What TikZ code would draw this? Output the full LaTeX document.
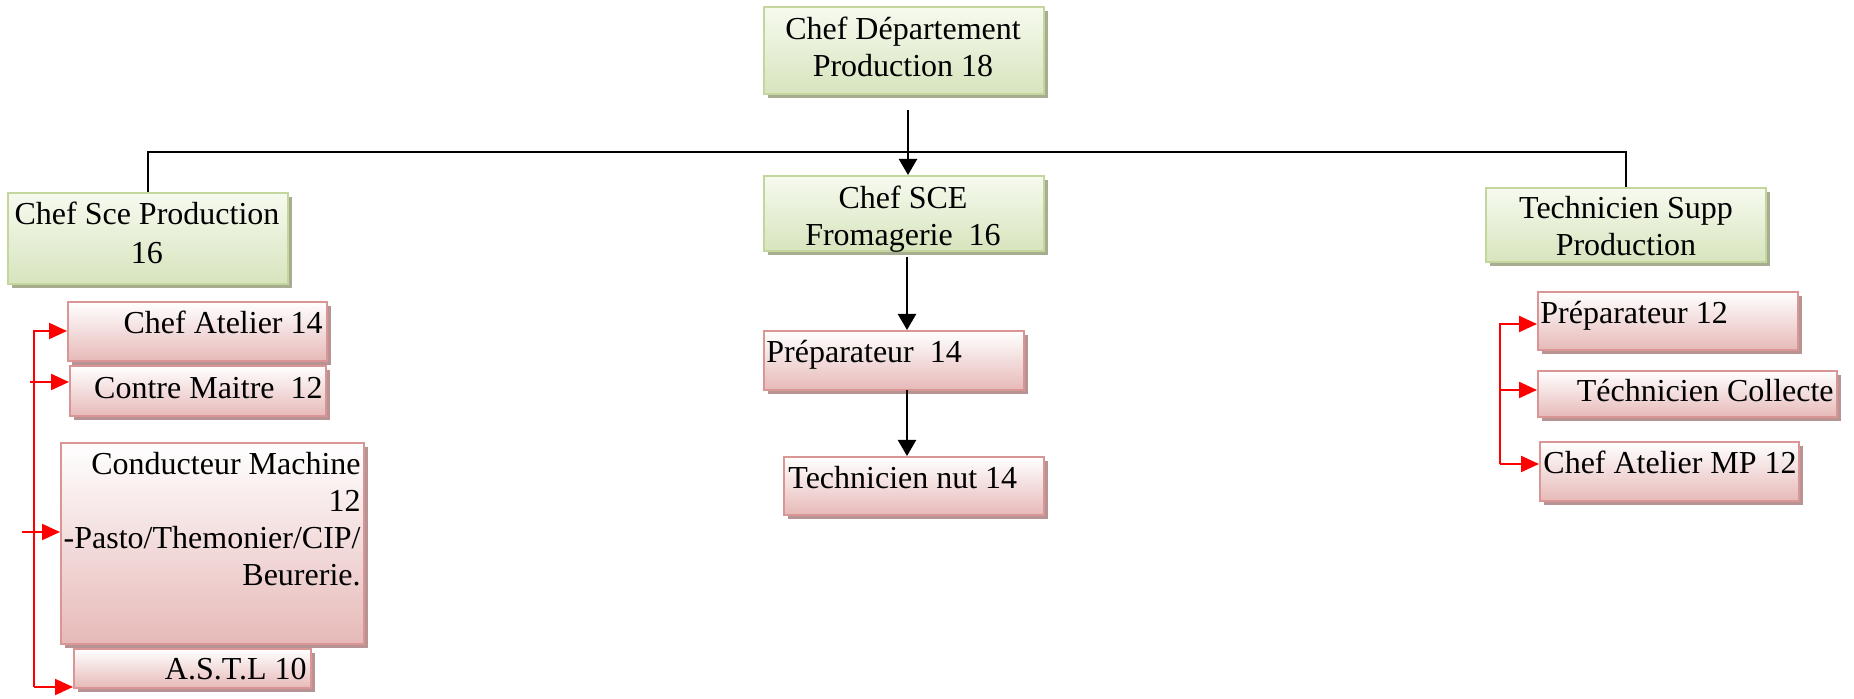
\documentclass[tikz,border=0pt]{standalone}
\usepackage{fontspec}
\setmainfont{Liberation Serif}
\usetikzlibrary{shadows,arrows.meta}
\definecolor{gborder}{HTML}{C3D69B}
\definecolor{gtop}{HTML}{F6FAEF}
\definecolor{gbot}{HTML}{D7E4BD}
\definecolor{gshadow}{HTML}{A6AD90}
\definecolor{rborder}{HTML}{D99694}
\definecolor{rtop}{HTML}{FFFFFF}
\definecolor{rbot}{HTML}{E6B9B8}
\definecolor{rshadow}{HTML}{B89393}
\definecolor{redline}{HTML}{FF0000}
\begin{document}
\begin{tikzpicture}[x=0.5pt,y=-0.5pt,
  font=\fontsize{16}{18.5}\selectfont,
  gbox/.style={draw=gborder, line width=1.2pt, top color=gtop, bottom color=gbot,
    inner sep=0pt, anchor=north west,
    drop shadow={shadow xshift=2pt,shadow yshift=-2pt,fill=gshadow,opacity=1}},
  rbox/.style={draw=rborder, line width=1.2pt, top color=rtop, bottom color=rbot,
    inner sep=0pt, anchor=north west,
    drop shadow={shadow xshift=2pt,shadow yshift=-2pt,fill=rshadow,opacity=1}},
  txt/.style={inner sep=0pt, text=black},
  bline/.style={black, line width=1.1pt},
  barrow/.style={black, line width=1.1pt, -{Triangle[length=8pt,width=9pt]}},
  rarrow/.style={redline, line width=1.1pt, -{Triangle[length=9pt,width=8pt]}}]
\useasboundingbox (0,0) rectangle (1854,699);

% boxes
\node[gbox, minimum width=140pt, minimum height=43.5pt] (top) at (763,6) {};
\node[gbox, minimum width=140pt, minimum height=45.5pt] (sce) at (7,192) {};
\node[gbox, minimum width=140pt, minimum height=37.5pt] (fro) at (763,175) {};
\node[gbox, minimum width=140pt, minimum height=37pt] (tsp) at (1485,187) {};
\node[rbox, minimum width=130pt, minimum height=29.5pt] (prepA) at (763,330) {};
\node[rbox, minimum width=130pt, minimum height=29pt] (nut) at (783,456) {};
\node[rbox, minimum width=129.5pt, minimum height=29.5pt] (chefat) at (67,301) {};
\node[rbox, minimum width=128pt, minimum height=25pt] (contre) at (69,365) {};
\node[rbox, minimum width=151.5pt, minimum height=100.5pt] (cond) at (60,442) {};
\node[rbox, minimum width=118.5pt, minimum height=19.5pt] (astl) at (73,648) {};
\node[rbox, minimum width=130pt, minimum height=29pt] (prepB) at (1537,291) {};
\node[rbox, minimum width=149.5pt, minimum height=23pt] (coll) at (1537,370) {};
\node[rbox, minimum width=129.5pt, minimum height=29.5pt] (mp) at (1539,441) {};

% texts
\node[txt, align=center, anchor=north] (topT) at (903,17) {Chef Département\\Production 18};
\node[txt, align=center, anchor=north] (sceT) at (147,202) {Chef Sce Production\\[1pt]16};
\node[txt, align=center, anchor=north] (froT) at (903,186) {Chef SCE\\Fromagerie\ \ 16};
\node[txt, align=center, anchor=north] (tspT) at (1626,196) {Technicien Supp\\Production};
\node[txt, anchor=base west] (prepAT) at (766,363) {Préparateur\ \ 14};
\node[txt, anchor=base west] (nutT) at (788,489) {Technicien nut 14};
\node[txt, anchor=base east] (chefatT) at (323,334) {Chef Atelier 14};
\node[txt, anchor=base east] (contreT) at (323,399) {Contre Maitre\ \ 12};
\node[txt, align=right, anchor=north east] (condT) at (361,452) {Conducteur Machine\\12\\-Pasto/Themonier/CIP/\\Beurerie.};
\node[txt, anchor=base east] (astlT) at (307,680) {A.S.T.L 10};
\node[txt, anchor=base west] (prepBT) at (1540,324) {Préparateur 12};
\node[txt, anchor=base east] (collT) at (1834,402) {Téchnicien Collecte};
\node[txt, anchor=base west] (mpT) at (1543,474) {Chef Atelier MP 12};

% black connectors
\coordinate (hl) at (148,152);
\draw[bline] (sce.north) |- (tsp.north |- hl) -- (tsp.north);
\coordinate (a1) at (908,110);
\draw[barrow] (a1) -- (a1 |- fro.north);
\coordinate (a2) at (907,257);
\draw[barrow] (a2) -- (a2 |- prepA.north);
\coordinate (a3) at (907,390);
\draw[barrow] (a3) -- (a3 |- nut.north);

% red connectors left
\coordinate (L1) at (34,331);
\coordinate (L2) at (30,382);
\coordinate (L3) at (22,532);
\coordinate (L4) at (34,687);
\draw[rarrow] (L4) -- (L1) -- (L1 -| chefat.west);
\draw[rarrow] (L2) -- (L2 -| contre.west);
\draw[rarrow] (L3) -- (L3 -| cond.west);
\draw[rarrow] (L4) -- (L4 -| astl.west);

% red connectors right
\coordinate (R1) at (1500,324);
\coordinate (R2) at (1500,390);
\coordinate (R3) at (1500,464);
\draw[rarrow] (R3) -- (R1) -- (R1 -| prepB.west);
\draw[rarrow] (R2) -- (R2 -| coll.west);
\draw[rarrow] (R3) -- (R3 -| mp.west);
\end{tikzpicture}
\end{document}
